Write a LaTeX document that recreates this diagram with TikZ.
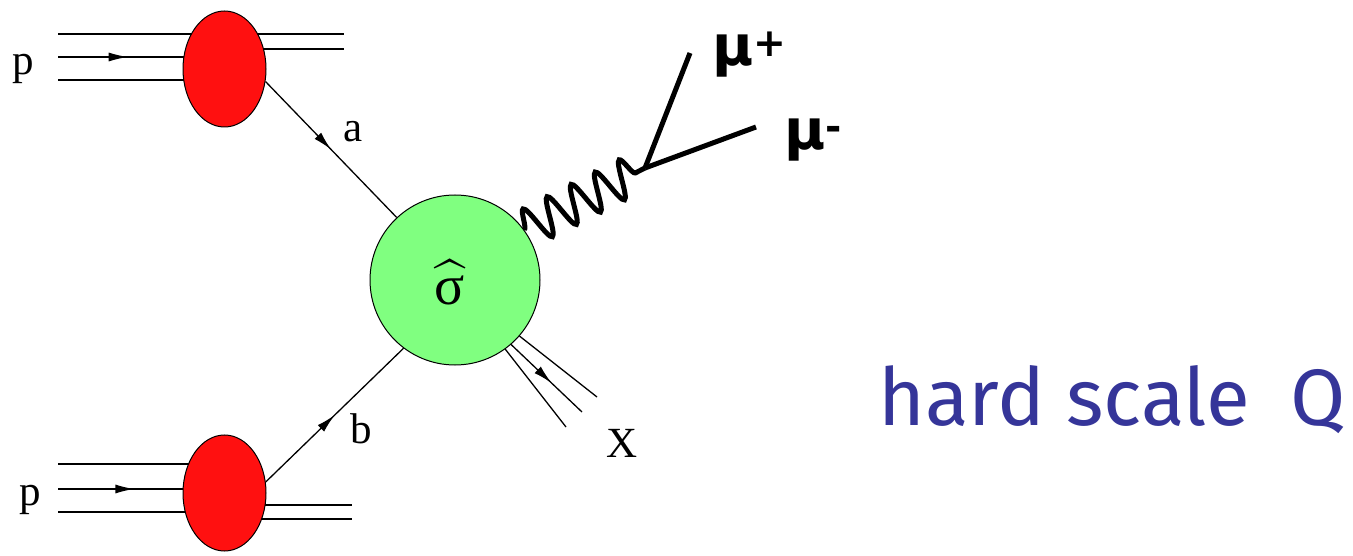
\documentclass[tikz,border=0pt]{standalone}
\usepackage{fontspec}
\setmainfont{Liberation Serif}
\newfontfamily\mufont{DejaVu Sans}
\newfontfamily\hardfont{Fira Sans}
\usetikzlibrary{arrows.meta, positioning, shapes.geometric, decorations.pathmorphing, decorations.markings}
\definecolor{protonred}{RGB}{255, 16, 16}
\definecolor{hardgreen}{RGB}{128, 255, 128}
\definecolor{scaleblue}{RGB}{53, 53, 153}

\begin{document}
\begin{tikzpicture}[
			x=1pt, y=-1pt,
			blob/.style={ellipse, draw, fill=protonred, minimum width=83pt, minimum height=116pt, inner sep=0pt, line width=1pt},
			hard/.style={circle, draw, fill=hardgreen, minimum size=170pt, inner sep=0pt, line width=1pt},
			thin line/.style={line width=1.3pt},
			fwd/.style={thin line, postaction={decorate}, decoration={markings, mark=at position #1 with {\arrow{Latex[length=19pt,width=9pt]}}}},
			lbl/.style={font=\fontsize{43}{50}\selectfont, anchor=base},
			mulbl/.style={font=\mufont\bfseries\fontsize{56}{60}\selectfont, anchor=base west, inner sep=0pt},
			muon/.style={line width=5pt},
			photon/.style={line width=5pt, decorate, decoration={snake, amplitude=19pt, segment length=27pt}}
		]
		\useasboundingbox (0,0) rectangle (1353,556);
		
		% incoming protons (drawn first, the blobs cover them)
		\coordinate (pt1) at (58,34);
		\coordinate (pt2) at (58,57);
		\coordinate (pt3) at (58,80);
		\coordinate (pb1) at (58,464);
		\coordinate (pb2) at (58,489);
		\coordinate (pb3) at (58,512);
		\draw[thin line] (pt1) -- (224,34);
		\draw[fwd=0.42] (pt2) -- (224,57);
		\draw[thin line] (pt3) -- (224,80);
		\draw[thin line] (pb1) -- (224,464);
		\draw[fwd=0.46] (pb2) -- (224,489);
		\draw[thin line] (pb3) -- (224,512);
		% proton remnants
		\coordinate (rt1) at (344,34);
		\coordinate (rt2) at (344,49);
		\coordinate (rb1) at (352,505);
		\coordinate (rb2) at (352,519);
		\draw[thin line] (224,34) -- (rt1);
		\draw[thin line] (224,49) -- (rt2);
		\draw[thin line] (224,505) -- (rb1);
		\draw[thin line] (224,519) -- (rb2);
		
		\node[blob] (pa) at (224.5,69) {};
		\node[blob] (pb) at (224.5,493) {};
		\node[hard] (sig) at (455,280) {};
		\node[anchor=base, inner sep=0pt] (sighat) at (450,305) {\scalebox{5.6}{$\widehat{\hbox{σ}}$}};
		
		% partons
		\draw[fwd=0.5] (pa.-17) -- (sig.133);
		\draw[fwd=0.5] (pb.15) -- (sig.233);
		
		% X jets
		\coordinate (x1) at (597,397);
		\coordinate (x2) at (582,412);
		\coordinate (x3) at (566,427);
		\draw[thin line] (sig.-41) -- (x1);
		\draw[fwd=0.57] (sig.-49) -- (x2);
		\draw[thin line] (sig.-54.5) -- (x3);
		
		% photon and muons
		\coordinate (vtx) at (645,168);
		\coordinate (mup) at (690,53);
		\coordinate (mum) at (756,127);
		\draw[photon] (sig.36) -- (vtx);
		\draw[muon] (vtx) -- (mup);
		\draw[muon] (vtx) -- (mum);
		
		% labels
		\node[lbl] (ptop) at (23,75) {p};
		\node[lbl] (pbot) at (30,505) {p};
		\node[lbl] (alab) at (353,142) {a};
		\node[lbl] (blab) at (361,443) {b};
		\node[lbl] (xlab) at (622,457) {X};
		\node[mulbl] (muplab) at (712,66) {μ\textsuperscript{+}};
		\node[mulbl] (mumlab) at (784,150) {μ\textsuperscript{-}};
		\node[font=\hardfont\fontsize{80}{85}\selectfont, text=scaleblue, anchor=base] (scale) at (1112,425) {hard scale\hspace{0.5em}Q};
		\end{tikzpicture}
\end{document}
